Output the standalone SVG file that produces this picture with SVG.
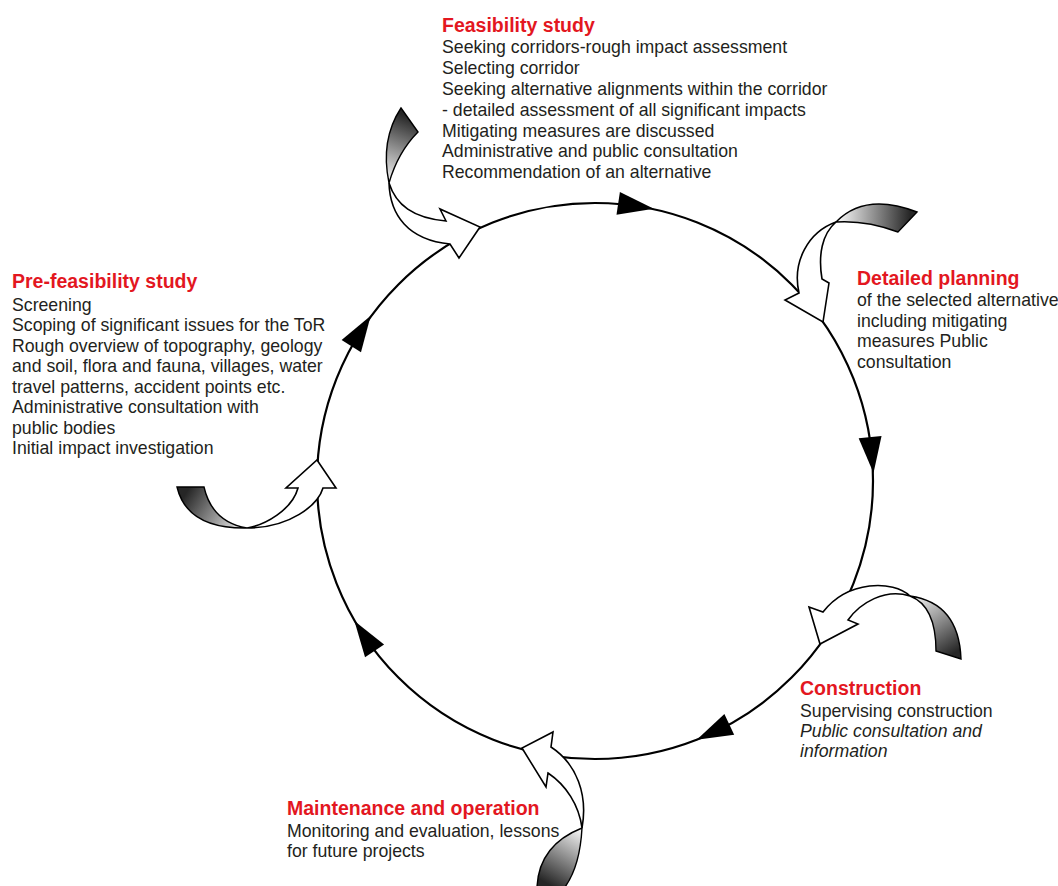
<svg xmlns="http://www.w3.org/2000/svg" width="1058" height="886" viewBox="0 0 1058 886">
<style>
  .t { font-family: "Liberation Sans", Arial, sans-serif; font-size: 17.7px; fill: #231f20; }
  .h { font-family: "Liberation Sans", Arial, sans-serif; font-size: 19.5px; font-weight: bold; fill: #e3171f; }
  .i { font-style: italic; }
  .ring { fill: none; stroke: #000; stroke-width: 2.2; }
  .body { fill: #fff; stroke: #000; stroke-width: 1.6; stroke-linejoin: miter; }
  .tail { stroke: #000; stroke-width: 1.4; stroke-linejoin: miter; }
  .tri { fill: #000; }
</style>
<defs>
  <path id="tri" d="M18,0 L-18,-11.5 L-18,11.5 Z"/>
  <linearGradient id="g1" gradientUnits="userSpaceOnUse" x1="412" y1="118" x2="388" y2="180"><stop offset="0" stop-color="#262626"/><stop offset="1" stop-color="#f2f2f2"/></linearGradient>
  <linearGradient id="g2" gradientUnits="userSpaceOnUse" x1="910" y1="222" x2="840" y2="220"><stop offset="0" stop-color="#262626"/><stop offset="1" stop-color="#f2f2f2"/></linearGradient>
  <linearGradient id="g3" gradientUnits="userSpaceOnUse" x1="950" y1="656" x2="912" y2="598"><stop offset="0" stop-color="#262626"/><stop offset="1" stop-color="#f2f2f2"/></linearGradient>
  <linearGradient id="g4" gradientUnits="userSpaceOnUse" x1="548" y1="884" x2="580" y2="830"><stop offset="0" stop-color="#262626"/><stop offset="1" stop-color="#f2f2f2"/></linearGradient>
  <linearGradient id="g5" gradientUnits="userSpaceOnUse" x1="188" y1="490" x2="246" y2="527"><stop offset="0" stop-color="#262626"/><stop offset="1" stop-color="#f2f2f2"/></linearGradient>
</defs>
<rect width="1058" height="886" fill="#fff"/>

<g id="connectors">
  <circle class="ring" cx="595" cy="481" r="278"/>
  <use href="#tri" class="tri" transform="translate(636,206) rotate(8.5)"/>
  <use href="#tri" class="tri" transform="translate(871.8,455) rotate(84.6)"/>
  <use href="#tri" class="tri" transform="translate(713,732) rotate(154.8)"/>
  <use href="#tri" class="tri" transform="translate(364.5,636) rotate(236)"/>
  <use href="#tri" class="tri" transform="translate(361,331) rotate(302.6)"/>

  <g id="arrow-feasibility">
    <path class="tail" fill="url(#g1)" d="M401,108 L418,132 Q398,152 389,183 Q380,140 401,108 Z"/>
    <path class="body" d="M389,183 C390,215 408,240 450,244 L459,258 L480,227 L440,209 L446,221 C413,218 396,205 389,183 Z"/>
  </g>
  <g id="arrow-detailed">
    <path class="tail" fill="url(#g2)" d="M917,212 L898,232 Q866,220 836,222 Q865,192 917,212 Z"/>
    <path class="body" d="M836,222 C808,232 792,262 799,293 L785,300 L823,322 L829,283 L822,279 C818,255 822,234 836,222 Z"/>
  </g>
  <g id="arrow-construction">
    <path class="tail" fill="url(#g3)" d="M936,651 L961,659 Q959,603 910,596 Q936,606 936,651 Z"/>
    <path class="body" d="M910,596 C893,580 848,580 823,612 L809,607 L820,644 L858,624 L848,620 C860,603 885,588 910,596 Z"/>
  </g>
  <g id="arrow-maintenance">
    <path class="tail" fill="url(#g4)" d="M582,828 Q580,866 565,887 L537,887 Q539,845 582,828 Z"/>
    <path class="body" d="M582,828 C588,795 577,764 551,747 L553,732 L522,748 L546,787 L548,773 C566,785 579,805 582,828 Z"/>
  </g>
  <g id="arrow-prefeasibility">
    <path class="tail" fill="url(#g5)" d="M177,487 L204,487 Q212,522 247,528 Q187,529 177,487 Z"/>
    <path class="body" d="M247,528 C265,525 292,510 298,488 L286,488 L317,460 L336,488 L323,488 C318,505 290,528 247,528 Z"/>
  </g>
</g>

<g id="node-feasibility">
  <text class="h" x="442" y="32">Feasibility study</text>
  <text class="t" x="442" y="53">Seeking corridors-rough impact assessment</text>
  <text class="t" x="442" y="74">Selecting corridor</text>
  <text class="t" x="442" y="95">Seeking alternative alignments within the corridor</text>
  <text class="t" x="442" y="115.5">- detailed assessment of all significant impacts</text>
  <text class="t" x="442" y="136.5">Mitigating measures are discussed</text>
  <text class="t" x="442" y="157">Administrative and public consultation</text>
  <text class="t" x="442" y="177.5">Recommendation of an alternative</text>
</g>

<g id="node-prefeasibility">
  <text class="h" x="12" y="288">Pre-feasibility study</text>
  <text class="t" x="12" y="310.5">Screening</text>
  <text class="t" x="12" y="331">Scoping of significant issues for the ToR</text>
  <text class="t" x="12" y="351.5">Rough overview of topography, geology</text>
  <text class="t" x="12" y="372">and soil, flora and fauna, villages, water</text>
  <text class="t" x="12" y="392.5">travel patterns, accident points etc.</text>
  <text class="t" x="12" y="413">Administrative consultation with</text>
  <text class="t" x="12" y="433.5">public bodies</text>
  <text class="t" x="12" y="454">Initial impact investigation</text>
</g>

<g id="node-detailed">
  <text class="h" x="857" y="285">Detailed planning</text>
  <text class="t" x="857" y="306">of the selected alternative</text>
  <text class="t" x="857" y="326.5">including mitigating</text>
  <text class="t" x="857" y="347">measures Public</text>
  <text class="t" x="857" y="367.5">consultation</text>
</g>

<g id="node-construction">
  <text class="h" x="800" y="695">Construction</text>
  <text class="t" x="800" y="717">Supervising construction</text>
  <text class="t i" x="800" y="737">Public consultation and</text>
  <text class="t i" x="800" y="757">information</text>
</g>

<g id="node-maintenance">
  <text class="h" x="287" y="815">Maintenance and operation</text>
  <text class="t" x="287" y="837">Monitoring and evaluation, lessons</text>
  <text class="t" x="287" y="857">for future projects</text>
</g>
</svg>
